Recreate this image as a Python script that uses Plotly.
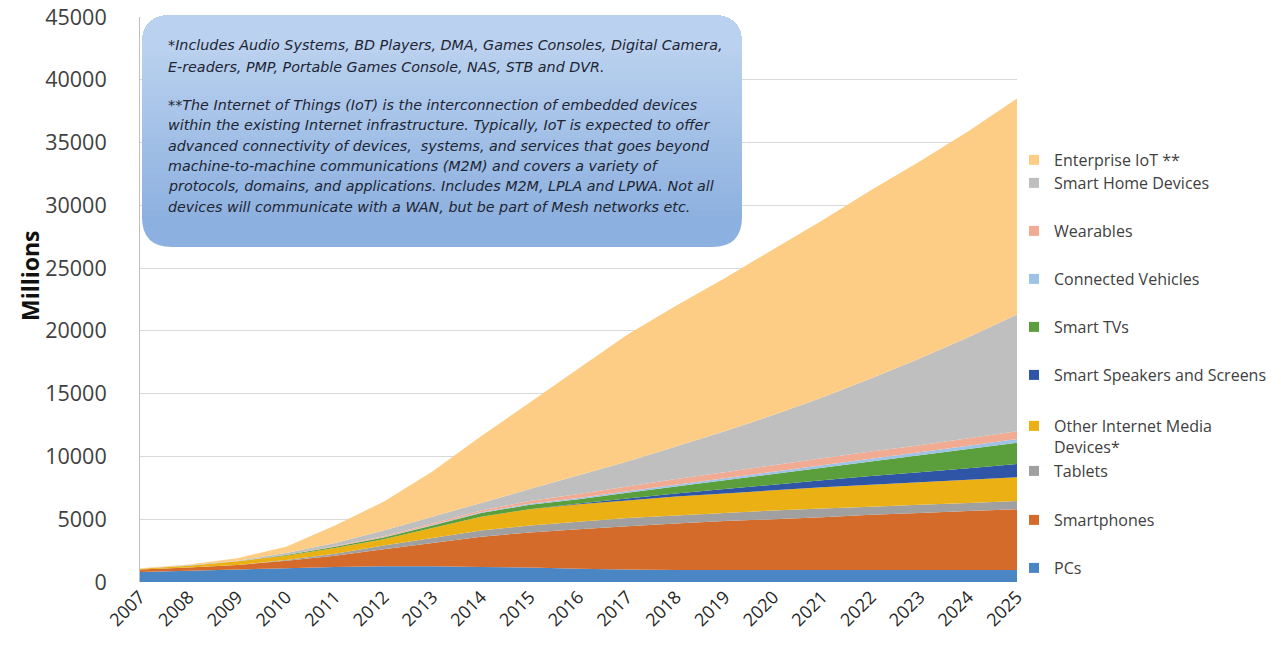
import plotly.graph_objects as go

# ---------------- data (millions of connected devices) ----------------
years = list(range(2007, 2026))

pcs           = [800, 900, 1000, 1100, 1200, 1250, 1250, 1200, 1150, 1050, 1000, 950, 950, 950, 950, 950, 950, 950, 950]
smartphones   = [200, 250, 350, 600, 900, 1350, 1850, 2400, 2800, 3150, 3450, 3700, 3900, 4050, 4200, 4400, 4550, 4700, 4850]
tablets       = [0, 0, 0, 50, 150, 300, 400, 500, 550, 600, 650, 650, 650, 700, 700, 650, 650, 650, 650]
other_media   = [50, 150, 300, 350, 450, 500, 800, 1100, 1300, 1400, 1400, 1500, 1550, 1600, 1700, 1750, 1800, 1850, 1900]
speakers      = [0, 0, 0, 0, 0, 0, 0, 0, 0, 50, 150, 250, 350, 450, 550, 700, 800, 900, 1050]
smart_tvs     = [0, 0, 0, 50, 100, 150, 200, 300, 350, 350, 450, 550, 700, 850, 1000, 1150, 1350, 1550, 1700]
vehicles      = [0, 0, 0, 0, 0, 20, 40, 60, 80, 100, 120, 140, 160, 180, 200, 220, 240, 260, 280]
wearables     = [0, 0, 0, 0, 50, 80, 110, 140, 220, 300, 380, 460, 490, 520, 550, 580, 560, 590, 620]
smart_home    = [0, 50, 50, 150, 250, 450, 550, 600, 950, 1500, 2000, 2600, 3250, 4000, 4850, 5800, 6900, 8050, 9300]
enterprise    = [50, 50, 200, 500, 1400, 2300, 3600, 5300, 6900, 8500, 10100, 11200, 12200, 13200, 14100, 15000, 15700, 16400, 17200]

series_names = ["PCs", "Smartphones", "Tablets", "Other Internet Media<br>Devices*",
                "Smart Speakers and Screens", "Smart TVs", "Connected Vehicles",
                "Wearables", "Smart Home Devices", "Enterprise IoT **"]
series_values = [pcs, smartphones, tablets, other_media, speakers, smart_tvs,
                 vehicles, wearables, smart_home, enterprise]
series_colors = ["#4A86C4", "#D46B2A", "#A0A0A0", "#EAB014", "#2F56A6", "#5A9F3C",
                 "#9DC3E6", "#F2AB93", "#BFBFBF", "#FECD85"]

y_ticks = list(range(0, 45001, 5000))

note_lines = [
    "*Includes Audio Systems, BD Players, DMA, Games Consoles, Digital Camera,",
    "E-readers, PMP, Portable Games Console, NAS, STB and DVR.",
    "**The Internet of Things (IoT) is the interconnection of embedded devices",
    "within the existing Internet infrastructure. Typically, IoT is expected to offer",
    "advanced connectivity of devices,  systems, and services that goes beyond",
    "machine-to-machine communications (M2M) and covers a variety of",
    "protocols, domains, and applications. Includes M2M, LPLA and LPWA. Not all",
    "devices will communicate with a WAN, but be part of Mesh networks etc.",
]
note_line_y = [45, 67, 105, 125, 146, 166, 186, 207]

# ---------------- layout geometry ----------------
W, H = 1281, 654
L, R, T, B = 140, 264, 17, 72
PW, PH = W - L - R, H - T - B

def px(xp):
    return (xp - L) / PW

def py(yp):
    return (H - B - yp) / PH

fig = go.Figure()

# stacked areas
for name, vals, col in zip(series_names, series_values, series_colors):
    fig.add_trace(go.Scatter(
        x=years, y=vals, stackgroup="one", mode="none",
        fillcolor=col, line=dict(width=0), name=name.replace("<br>", " "),
        showlegend=False, hoverinfo="x+y+name"))

# legend entries (one legend per item to reproduce the spacing)
legend_y = {"Enterprise IoT **": 160, "Smart Home Devices": 183, "Wearables": 231,
            "Connected Vehicles": 279, "Smart TVs": 327, "Smart Speakers and Screens": 375,
            "Other Internet Media<br>Devices*": 422, "Tablets": 471, "Smartphones": 520,
            "PCs": 568}
legend_font = dict(family="Open Sans", size=16, color="#404040")
for i, (name, col) in enumerate(zip(series_names, series_colors)):
    key = "legend" if i == 0 else f"legend{i+1}"
    fig.add_trace(go.Scatter(
        x=[None], y=[None], mode="markers", name=name,
        marker=dict(symbol="square", size=10, color=col),
        showlegend=True, legend=key))
    two_line = "<br>" in name
    ycen = legend_y[name]
    fig.layout[key] = dict(
        x=px(1014), xanchor="left",
        y=py(ycen - 13) if two_line else py(ycen),
        yanchor="top" if two_line else "middle",
        valign="top",
        font=legend_font, bgcolor="rgba(0,0,0,0)", borderwidth=0,
        itemclick=False, itemdoubleclick=False)

# ---------------- note box (rounded, vertical gradient) ----------------
bx0, bx1, by0, by1, rad = 142, 742, 15, 247, 30

def pt(x, y):
    return f"{px(x):.5f},{py(y):.5f}"

def rounded_full():
    return (f"M{pt(bx0+rad, by0)} L{pt(bx1-rad, by0)} Q{pt(bx1, by0)} {pt(bx1, by0+rad)} "
            f"L{pt(bx1, by1-rad)} Q{pt(bx1, by1)} {pt(bx1-rad, by1)} "
            f"L{pt(bx0+rad, by1)} Q{pt(bx0, by1)} {pt(bx0, by1-rad)} "
            f"L{pt(bx0, by0+rad)} Q{pt(bx0, by0)} {pt(bx0+rad, by0)} Z")

def rounded_top(ybot):
    return (f"M{pt(bx0, ybot)} L{pt(bx0, by0+rad)} Q{pt(bx0, by0)} {pt(bx0+rad, by0)} "
            f"L{pt(bx1-rad, by0)} Q{pt(bx1, by0)} {pt(bx1, by0+rad)} L{pt(bx1, ybot)} Z")

top_rgb = (186, 209, 239)
bot_rgb = (140, 176, 223)
shapes = [dict(type="path", xref="paper", yref="paper", path=rounded_full(),
               fillcolor="rgb(%d,%d,%d)" % bot_rgb, line=dict(width=0), layer="above")]
N = 24
ystart, yend = by1 - rad, by0 + rad
for k in range(N):
    f = (k + 1) / N
    ybot = ystart - (ystart - yend) * k / N
    c = tuple(round(b + (t - b) * f) for t, b in zip(top_rgb, bot_rgb))
    shapes.append(dict(type="path", xref="paper", yref="paper", path=rounded_top(ybot),
                       fillcolor="rgb(%d,%d,%d)" % c, line=dict(width=0), layer="above"))

note_font = dict(family="DejaVu Sans", size=14.3, color="#1e2533")
annotations = []
for line, ly in zip(note_lines, note_line_y):
    annotations.append(dict(xref="paper", yref="paper", x=px(166), y=py(ly),
                            xanchor="left", yanchor="middle", align="left",
                            showarrow=False, text=f"<i>{line}</i>", font=note_font))
annotations.append(dict(xref="paper", yref="paper", x=px(30), y=py(275),
                        xanchor="center", yanchor="middle", textangle=-90,
                        showarrow=False, text="<b>Millions</b>",
                        font=dict(family="Open Sans", size=23, color="#111111")))

fig.update_layout(
    width=W, height=H,
    margin=dict(l=L, r=R, t=T, b=B, pad=0, autoexpand=False),
    paper_bgcolor="white", plot_bgcolor="white",
    shapes=shapes, annotations=annotations,
    xaxis=dict(range=[years[0], years[-1]], tickmode="array", tickvals=years,
               ticktext=[str(y) for y in years], tickangle=-45, showgrid=False,
               zeroline=False, showline=False, ticks="",
               tickfont=dict(family="Open Sans", size=18, color="#262626")),
    yaxis=dict(range=[0, 45000], tickmode="array", tickvals=y_ticks,
               ticktext=[str(v) for v in y_ticks],
               showgrid=True, gridcolor="#D9D9D9", gridwidth=1, zeroline=False,
               showline=True, linecolor="#BFBFBF", linewidth=1, ticks="",
               ticklabelstandoff=28,
               tickfont=dict(family="Open Sans", size=21.5, color="#404040")),
    hovermode="x unified",
)

fig.write_html("out.html", config={"displayModeBar": False},
               post_script="document.body.style.margin='0';")
